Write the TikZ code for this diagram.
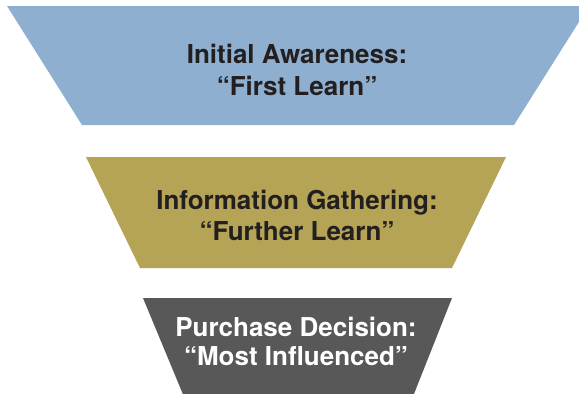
\documentclass[tikz,border=0pt]{standalone}
\usepackage{fontspec}
\setmainfont{TeX Gyre Heros}
\begin{document}
\definecolor{stageblue}{HTML}{8EAFD0}
\definecolor{stagegold}{HTML}{B5A455}
\definecolor{stagegray}{HTML}{585858}
\definecolor{inkdark}{HTML}{231F20}
\begin{tikzpicture}[x=1pt,y=-1pt,
  label/.style={anchor=base,inner sep=0pt,font=\fontsize{26}{30}\selectfont\bfseries}]
\useasboundingbox (0,0) rectangle (579,394);
\begin{scope}
\clip (0,0) rectangle (579,394);
% funnel stages, widest on top
\fill[stageblue] (7,6) -- (589,6) -- (514,125) -- (82,125) -- cycle;
\fill[stagegold] (86,157) -- (506,157) -- (452,268) -- (140,268) -- cycle;
\fill[stagegray] (143,298) -- (452,298) -- (410,404) -- (187,404) -- cycle;
\end{scope}
% stage captions
\node[label,text=inkdark] (s1a) at (297,63) {Initial Awareness:};
\node[label,text=inkdark] (s1b) at (297,95) {“First Learn”};
\node[label,text=inkdark] (s2a) at (297,209) {Information Gathering:};
\node[label,text=inkdark] (s2b) at (297,240) {“Further Learn”};
\node[label,text=white] (s3a) at (296,336) {Purchase Decision:};
\node[label,text=white] (s3b) at (296,365) {“Most Influenced”};
\end{tikzpicture}
\end{document}
